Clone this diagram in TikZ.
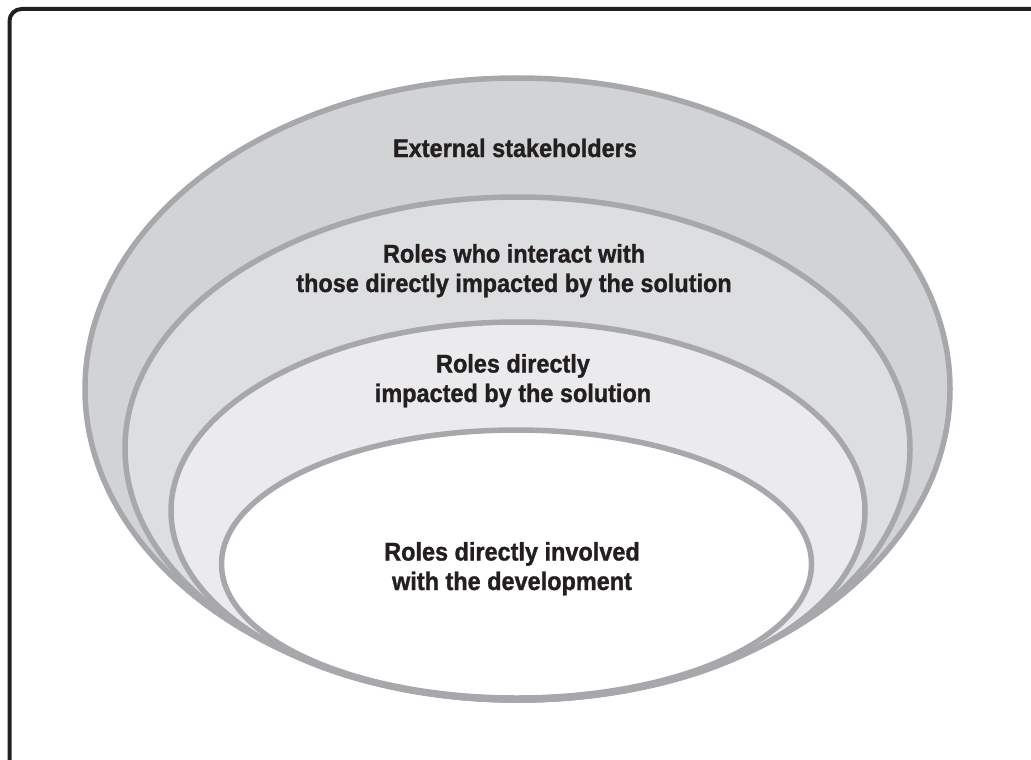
\documentclass[tikz,border=0pt]{standalone}
\usepackage{fontspec}
\setmainfont{Liberation Sans}[FakeStretch=0.92, BoldFeatures={FakeBold=1.2}]
\definecolor{ringA}{HTML}{D2D3D5}
\definecolor{ringB}{HTML}{DDDEE0}
\definecolor{ringC}{HTML}{EBEBED}
\definecolor{ringline}{HTML}{A7A8AB}
\definecolor{framec}{HTML}{231F20}
\definecolor{txt}{HTML}{231F20}
\tikzset{
  ring/.style={draw=ringline, line width=5.5pt},
  lab/.style={align=center, font=\fontsize{25.5}{29.5}\selectfont\bfseries, text=txt, inner sep=0pt},
}
\begin{document}
\begin{tikzpicture}[x=1pt,y=-1pt]
\useasboundingbox (0,0) rectangle (1031,760);
\clip (0,0) rectangle (1031,760);
\draw[framec, line width=4pt, rounded corners=12pt] (9.5,800) -- (9.5,9) -- (1060,9);
\draw[ring, fill=ringA] (517.5,389) ellipse [x radius=432.5pt, y radius=311pt];
\draw[ring, fill=ringB] (517.5,448.5) ellipse [x radius=392.5pt, y radius=251.5pt];
\draw[ring, fill=ringC] (518,511) ellipse [x radius=347pt, y radius=189pt];
\draw[ring, fill=white] (516.5,564) ellipse [x radius=295pt, y radius=134pt];
\node[lab, anchor=base] (ext) at (515,157) {External stakeholders};
\node[lab, anchor=base] (inter) at (514,292) {Roles who interact with\\those directly impacted by the solution};
\node[lab, anchor=base] (imp) at (513,402) {Roles directly\\impacted by the solution};
\node[lab, anchor=base] (dev) at (512,590) {Roles directly involved\\with the development};
\end{tikzpicture}
\end{document}
